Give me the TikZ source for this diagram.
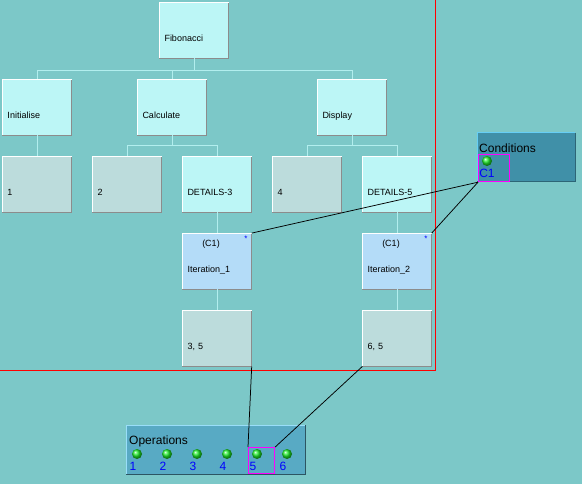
\documentclass[tikz,border=0pt]{standalone}
\usepackage{fontspec}
\setmainfont{Liberation Sans}
\usetikzlibrary{positioning, calc}
\definecolor{bgcolor}{RGB}{124,200,200}
\definecolor{treecolor}{RGB}{178,238,238}
\definecolor{detailcolor}{RGB}{188,246,246}
\definecolor{leafcolor}{RGB}{188,220,220}
\definecolor{itercolor}{RGB}{180,220,248}
\definecolor{opscolor}{RGB}{88,170,196}
\definecolor{condcolor}{RGB}{64,144,168}
\definecolor{ballcolor}{RGB}{30,235,40}
\definecolor{pickcolor}{RGB}{255,0,255}
\tikzset{
  box/.style      = {rectangle, draw=none, fill=detailcolor, minimum width=69pt,
                     text width=59pt, align=left, inner xsep=5pt, inner ysep=0pt,
                     text height=39pt, text depth=17pt, font=\fontsize{9}{10}\selectfont},
  leafbox/.style  = {box, fill=leafcolor},
  iterbox/.style  = {box, fill=itercolor},
  tree/.style     = {draw=treecolor, line width=1pt},
  link/.style     = {draw=black, line width=0.75pt},
  lighter/.style  = {draw=white, line width=1pt},
  shade/.style    = {draw=black!45, line width=1pt},
  panel/.style    = {rectangle, anchor=north west, minimum width=179pt, minimum height=49pt,
                     inner sep=0pt, fill=opscolor},
  pick/.style     = {rectangle, draw=pickcolor, line width=1.2pt, inner sep=0pt, anchor=north west},
  ball/.style     = {circle, minimum size=10pt, inner sep=0pt, ball color=ballcolor},
  num/.style      = {text=blue, font=\fontsize{12}{13}\selectfont, inner sep=0pt},
  small/.style    = {font=\fontsize{9}{10}\selectfont, inner sep=0pt},
  title/.style    = {anchor=west, inner sep=0pt, font=\fontsize{12}{13}\selectfont},
  star/.style     = {text=blue, font=\fontsize{8}{9}\selectfont, inner sep=0pt},
}
\begin{document}
\begin{tikzpicture}[x=1pt, y=-1pt]
\useasboundingbox (0,0) rectangle (582,484);
\fill[bgcolor] (0,0) rectangle (582,484);

% frame
\coordinate (ftop) at (435.5,0);
\coordinate (fcorner) at (435.5,370.5);
\coordinate (fleft) at (0,370.5);
\draw[draw=red, line width=1.4pt] (ftop) -- (fcorner) -- (fleft);

% tree
\node[box] (fib) at (194,30.3) {Fibonacci};
\node[box] (init) at (37,107.3) {Initialise};
\node[box] (calc) at (172,107.3) {Calculate};
\node[box] (disp) at (352,107.3) {Display};
\node[leafbox] (l1) at (37,184.3) {1};
\node[leafbox] (l2) at (127,184.3) {2};
\node[box] (det3) at (217,184.3) {DETAILS-3};
\node[leafbox] (l4) at (307,184.3) {4};
\node[box] (det5) at (397,184.3) {DETAILS-5};
\node[iterbox] (it1) at (217,261.3) {Iteration\_1};
\node[iterbox] (it2) at (397,261.3) {Iteration\_2};
\node[leafbox] (l35) at (217,338.3) {3, 5};
\node[leafbox] (l65) at (397,338.3) {6, 5};

\foreach \n in {fib,init,calc,disp,l1,l2,det3,l4,det5,it1,it2,l35,l65}{
  \draw[shade] (\n.south west) -- (\n.south east) -- (\n.north east);
  \draw[lighter] (\n.south west) -- (\n.north west) -- (\n.north east);
}

\node[small] (cond1a) at (211,244) {(C1)};
\node[small] (cond1b) at (391,244) {(C1)};
\node[star] (mark1) at (246,239) {*};
\node[star] (mark2) at (426,239) {*};

\draw[tree] (fib.south) -- ++(0,12) -| (init.north);
\draw[tree] (fib.south) -- ++(0,12) -| (calc.north);
\draw[tree] (fib.south) -- ++(0,12) -| (disp.north);
\draw[tree] (calc.south) -- ++(0,10) -| (l2.north);
\draw[tree] (calc.south) -- ++(0,10) -| (det3.north);
\draw[tree] (disp.south) -- ++(0,10) -| (l4.north);
\draw[tree] (disp.south) -- ++(0,10) -| (det5.north);
\draw[tree] (init) -- (l1);
\draw[tree] (det3) -- (it1);
\draw[tree] (det5) -- (it2);
\draw[tree] (it1) -- (l35);
\draw[tree] (it2) -- (l65);

% panels
\node[panel] (ops) at (126,425) {};
\node[panel, minimum width=98pt, minimum height=48pt, fill=condcolor] (cond) at (477,133) {};
\draw[draw=opscolor!50!black, line width=1pt] (ops.south west) -- (ops.south east) -- (ops.north east);
\draw[draw=cyan!40!white, line width=1pt] (ops.south west) -- (ops.north west) -- (ops.north east);
\draw[draw=condcolor!70!black, line width=1pt] (cond.south west) -- (cond.south east) -- (cond.north east);
\draw[draw=cyan!60!white, line width=1pt] (cond.south west) -- (cond.north west) -- (cond.north east);
\node[title] (opstitle) at (129,441) {Operations};
\node[title] (condtitle) at (479,148) {Conditions};

\foreach \i/\x in {1/137,2/167,3/197,4/227,5/257,6/287}{
  \node[ball] (b\i) at (\x,454) {};
  \node[num] (n\i) at (\x-4,466) {\i};
}
\node[ball] (bc) at (487,161) {};
\node[num] (nc) at (487,173) {C1};

\node[pick, minimum width=26pt, minimum height=26pt] (op5) at (248,447) {};
\node[pick, minimum width=31pt, minimum height=27pt] (cond1) at (478,154) {};

% links
\draw[link] (it1.north east) -- (cond1.south west);
\draw[link] (it2.north east) -- (cond1.south west);
\draw[link] (l35.south east) -- (op5.north west);
\draw[link] (l65.south west) -- (op5.north east);
\end{tikzpicture}
\end{document}
